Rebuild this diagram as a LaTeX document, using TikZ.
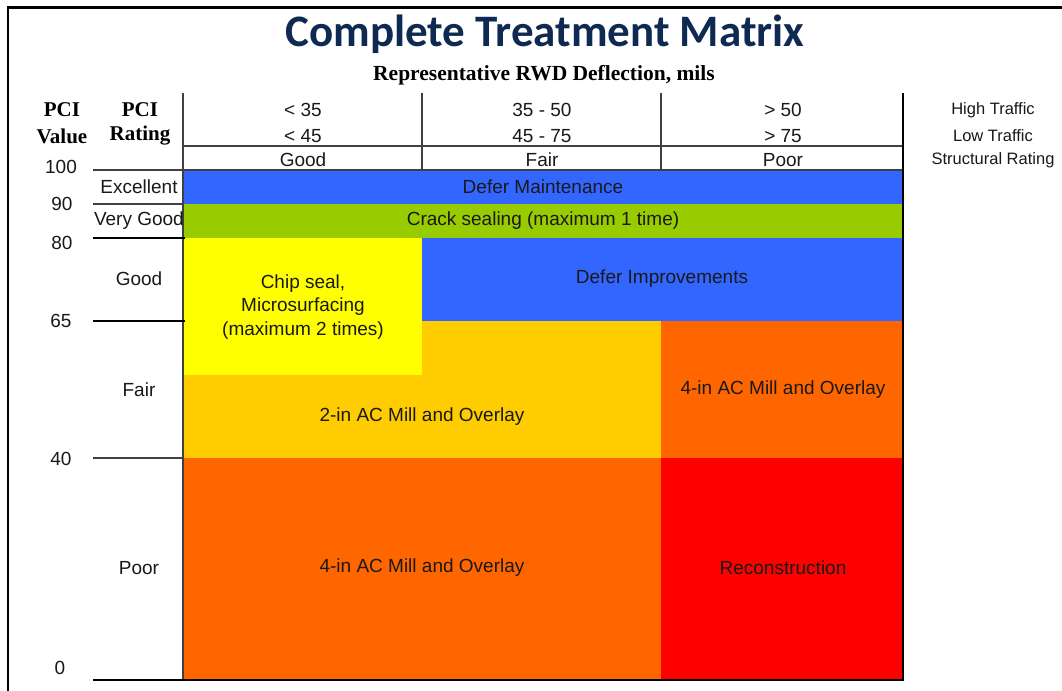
\documentclass[tikz,border=0pt]{standalone}
\usepackage{fontspec}
\setmainfont{Liberation Sans}
\newfontfamily\serifbold{Liberation Serif}[BoldFont={Liberation Serif Bold}]
\newfontfamily\titlefont{Carlito}
\definecolor{titlenavy}{HTML}{0F2A52}
\definecolor{cellblue}{HTML}{3366FF}
\definecolor{cellgreen}{HTML}{99CC00}
\definecolor{cellyellow}{HTML}{FFFF00}
\definecolor{cellgold}{HTML}{FFCC00}
\definecolor{cellorange}{HTML}{FF6600}
\definecolor{cellred}{HTML}{FF0000}
\definecolor{inkgray}{HTML}{404040}
\tikzset{
  body/.style={font=\fontsize{19bp}{22bp}\selectfont, text=black!90, inner sep=0pt, align=center},
  side/.style={font=\fontsize{16.5bp}{19bp}\selectfont, text=black!90, inner sep=0pt},
  head/.style={font=\serifbold\bfseries\fontsize{21bp}{24bp}\selectfont, text=black, inner sep=0pt},
  thin/.style={draw=inkgray, line width=1.2bp},
  thick/.style={draw=black, line width=2.2bp},
}
\begin{document}
\begin{tikzpicture}[x=1bp, y=-1bp]
\useasboundingbox (0,0) rectangle (1062,691);
\fill[white] (0,0) rectangle (1062,691);
% outer frame (left and top edges)
\draw[line width=2.2bp] (8,691) -- (8,7.5) -- (1062,7.5);

% title block
\node[font=\titlefont\bfseries\fontsize{45bp}{50bp}\selectfont, text=titlenavy, inner sep=0pt] (title) at (545,34) {Complete Treatment Matrix};
\node[head, font=\serifbold\bfseries\fontsize{21.5bp}{24bp}\selectfont] (sub) at (544,75) {Representative RWD Deflection, mils};

% treatment cells
\fill[cellblue]   (183,170) rectangle (903,204);
\fill[cellgreen]  (183,204) rectangle (903,238);
\fill[cellblue]   (422,238) rectangle (903,321);
\fill[cellgold]   (183,321) rectangle (661,458);
\fill[cellyellow] (183,238) rectangle (422,375);
\fill[cellorange] (661,321) rectangle (903,458);
\fill[cellorange] (183,458) rectangle (661,680);
\fill[cellred]    (661,458) rectangle (903,680);

% header grid
\draw[thin] (183,146) -- (903,146);
\draw[thin] (93,170) -- (903,170);
\draw[thin] (422,93) -- (422,170);
\draw[thin] (661,93) -- (661,170);
\draw[thin] (183,93) -- (183,680);
\draw[line width=2bp] (903,93) -- (903,681);

% PCI scale ticks
\draw[thin] (93,204) -- (183,204);
\draw[thick] (93,238) -- (185,238);
\draw[thick] (93,321) -- (185,321);
\draw[thin] (93,458) -- (183,458);
\draw[thick] (93,680) -- (904,680);

% column headings
\node[head] (pci1) at (62,110) {PCI};
\node[head] (val)  at (62,136) {Value};
\node[head] (pci2) at (140,110) {PCI};
\node[head] (rat)  at (140,136) {Rating};

\node[body] (h1a) at (303,110) {< 35};
\node[body] (h1b) at (303,136) {< 45};
\node[body] (h1c) at (303,160) {Good};
\node[body] (h2a) at (542,110) {35 - 50};
\node[body] (h2b) at (542,136) {45 - 75};
\node[body] (h2c) at (542,160) {Fair};
\node[body] (h3a) at (783,110) {> 50};
\node[body] (h3b) at (783,136) {> 75};
\node[body] (h3c) at (783,160) {Poor};

\node[side] (ht) at (993,110) {High Traffic};
\node[side] (lt) at (993,136) {Low Traffic};
\node[side] (sr) at (993,160) {Structural Rating};

% PCI values
\node[body] (v100) at (61,167) {100};
\node[body] (v90)  at (62,204) {90};
\node[body] (v80)  at (62,243) {80};
\node[body] (v65)  at (61,321) {65};
\node[body] (v40)  at (61,459) {40};
\node[body] (v0)   at (60,668) {0};

% PCI ratings
\node[body] (rExc)  at (139,187) {Excellent};
\node[body, anchor=east] (rVG) at (184,221) {Very Good};
\node[body] (rGood) at (139,279) {Good};
\node[body] (rFair) at (139,390) {Fair};
\node[body] (rPoor) at (139,568) {Poor};

% treatments
\node[body] (tDefM)  at (543,187) {Defer Maintenance};
\node[body] (tCrack) at (543,221) {Crack sealing (maximum 1 time)};
\node[body] (tDefI)  at (662,279) {Defer Improvements};
\node[body, font=\fontsize{19bp}{23.5bp}\selectfont] (tChip) at (303,307) {Chip seal,\\Microsurfacing\\(maximum 2 times)};
\node[body] (tMill2) at (422,417) {2-in AC Mill and Overlay};
\node[body] (tMill4a) at (783,390) {4-in AC Mill and Overlay};
\node[body] (tMill4b) at (422,568) {4-in AC Mill and Overlay};
\node[body] (tRecon) at (783,568) {Reconstruction};
\end{tikzpicture}
\end{document}
